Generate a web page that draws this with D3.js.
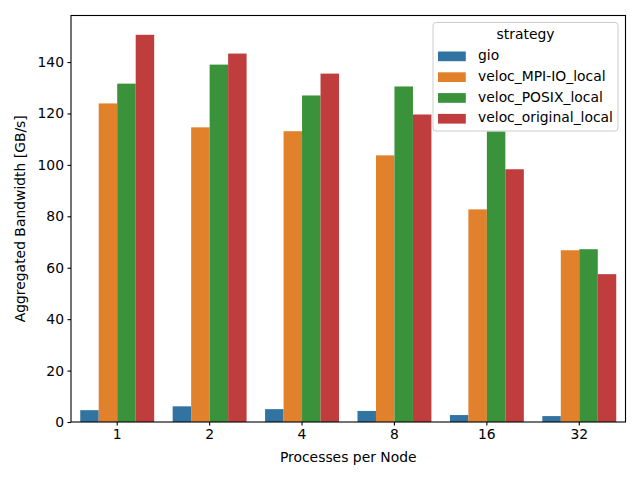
<!DOCTYPE html>
<html lang="en">
<head>
  <meta charset="UTF-8">
  <title>Aggregated Bandwidth</title>
  <style>
    * { margin: 0; padding: 0; }
    body { background: #fff; font-family: 'DejaVu Sans', sans-serif; }
    svg text { fill: #000; }
  </style>
  <script src="https://cdn.jsdelivr.net/npm/d3@7/dist/d3.min.js"></script>
</head>
<body>
  <svg id="chart" width="640" height="480"></svg>
  <script>
    const processes = ['1', '2', '4', '8', '16', '32'];
    const strategies = ['gio', 'veloc_MPI-IO_local', 'veloc_POSIX_local', 'veloc_original_local'];
    const gio = [4.6, 6.1, 5.0, 4.3, 2.7, 2.3];
    const mpiio = [123.9, 114.6, 113.1, 103.7, 82.7, 66.8];
    const posix = [131.6, 139.0, 127.0, 130.5, 113.0, 67.2];
    const original = [150.6, 143.3, 135.5, 119.6, 98.3, 57.5];
    const yTicks = [0, 20, 40, 60, 80, 100, 120, 140];
    const colors = ['#3274a1', '#e1812c', '#3a923a', '#c03d3e'];

    const series = [gio, mpiio, posix, original];
    const margin = { left: 71, right: 14.5, top: 15.5, bottom: 58 };
    const W = 640, H = 480;
    const svg = d3.select('#chart');

    const x = d3.scaleBand().domain(processes)
      .range([margin.left, W - margin.right]).paddingInner(0.2).paddingOuter(0.1);
    const xh = d3.scaleBand().domain(strategies).range([0, x.bandwidth()]);
    const y = d3.scaleLinear().domain([0, 158.1]).range([H - margin.bottom, margin.top]);

    // bars
    series.forEach((vals, si) => {
      svg.append('g').selectAll('rect')
        .data(vals)
        .join('rect')
        .attr('x', (d, i) => x(processes[i]) + xh(strategies[si]))
        .attr('width', xh.bandwidth())
        .attr('y', d => y(d))
        .attr('height', d => y(0) - y(d))
        .attr('fill', colors[si]);
    });

    // axes
    const xAxis = svg.append('g')
      .attr('transform', `translate(0,${H - margin.bottom})`)
      .call(d3.axisBottom(x).tickSizeOuter(0).tickSize(3.5).tickPadding(3.5));
    const yAxis = svg.append('g')
      .attr('transform', `translate(${margin.left},0)`)
      .call(d3.axisLeft(y).tickValues(yTicks).tickSizeOuter(0).tickSize(3.5).tickPadding(3.5));
    [xAxis, yAxis].forEach(a => {
      a.selectAll('text').attr('font-size', 13.9).attr('font-family', 'DejaVu Sans').attr('fill', '#000');
      a.selectAll('line').attr('stroke', '#000').attr('stroke-width', 1.1);
      a.select('.domain').remove();
    });

    // frame
    svg.append('rect')
      .attr('x', margin.left).attr('y', margin.top)
      .attr('width', W - margin.right - margin.left)
      .attr('height', H - margin.bottom - margin.top)
      .attr('fill', 'none').attr('stroke', '#000').attr('stroke-width', 1.1);

    // labels
    svg.append('text')
      .attr('x', (margin.left + W - margin.right) / 2).attr('y', 462)
      .attr('text-anchor', 'middle').attr('font-size', 13.9)
      .text('Processes per Node');
    svg.append('text')
      .attr('transform', `translate(25,${(margin.top + H - margin.bottom) / 2}) rotate(-90)`)
      .attr('text-anchor', 'middle').attr('font-size', 13.9)
      .text('Aggregated Bandwidth [GB/s]');

    // legend
    const lg = svg.append('g');
    lg.append('rect')
      .attr('x', 433).attr('y', 22.5).attr('width', 185).attr('height', 108.5)
      .attr('rx', 3).attr('fill', '#fff').attr('fill-opacity', 0.8)
      .attr('stroke', '#ccc').attr('stroke-width', 1);
    lg.append('text')
      .attr('x', 525.5).attr('y', 39).attr('text-anchor', 'middle').attr('font-size', 13.9)
      .text('strategy');
    strategies.forEach((s, i) => {
      const cy = 55 + i * 20.8;
      lg.append('rect').attr('x', 438).attr('y', cy - 3.5).attr('width', 27.8).attr('height', 9.7)
        .attr('fill', colors[i]);
      lg.append('text').attr('x', 478).attr('y', cy + 5).attr('font-size', 13.9).text(s);
    });
  </script>
</body>
</html>
